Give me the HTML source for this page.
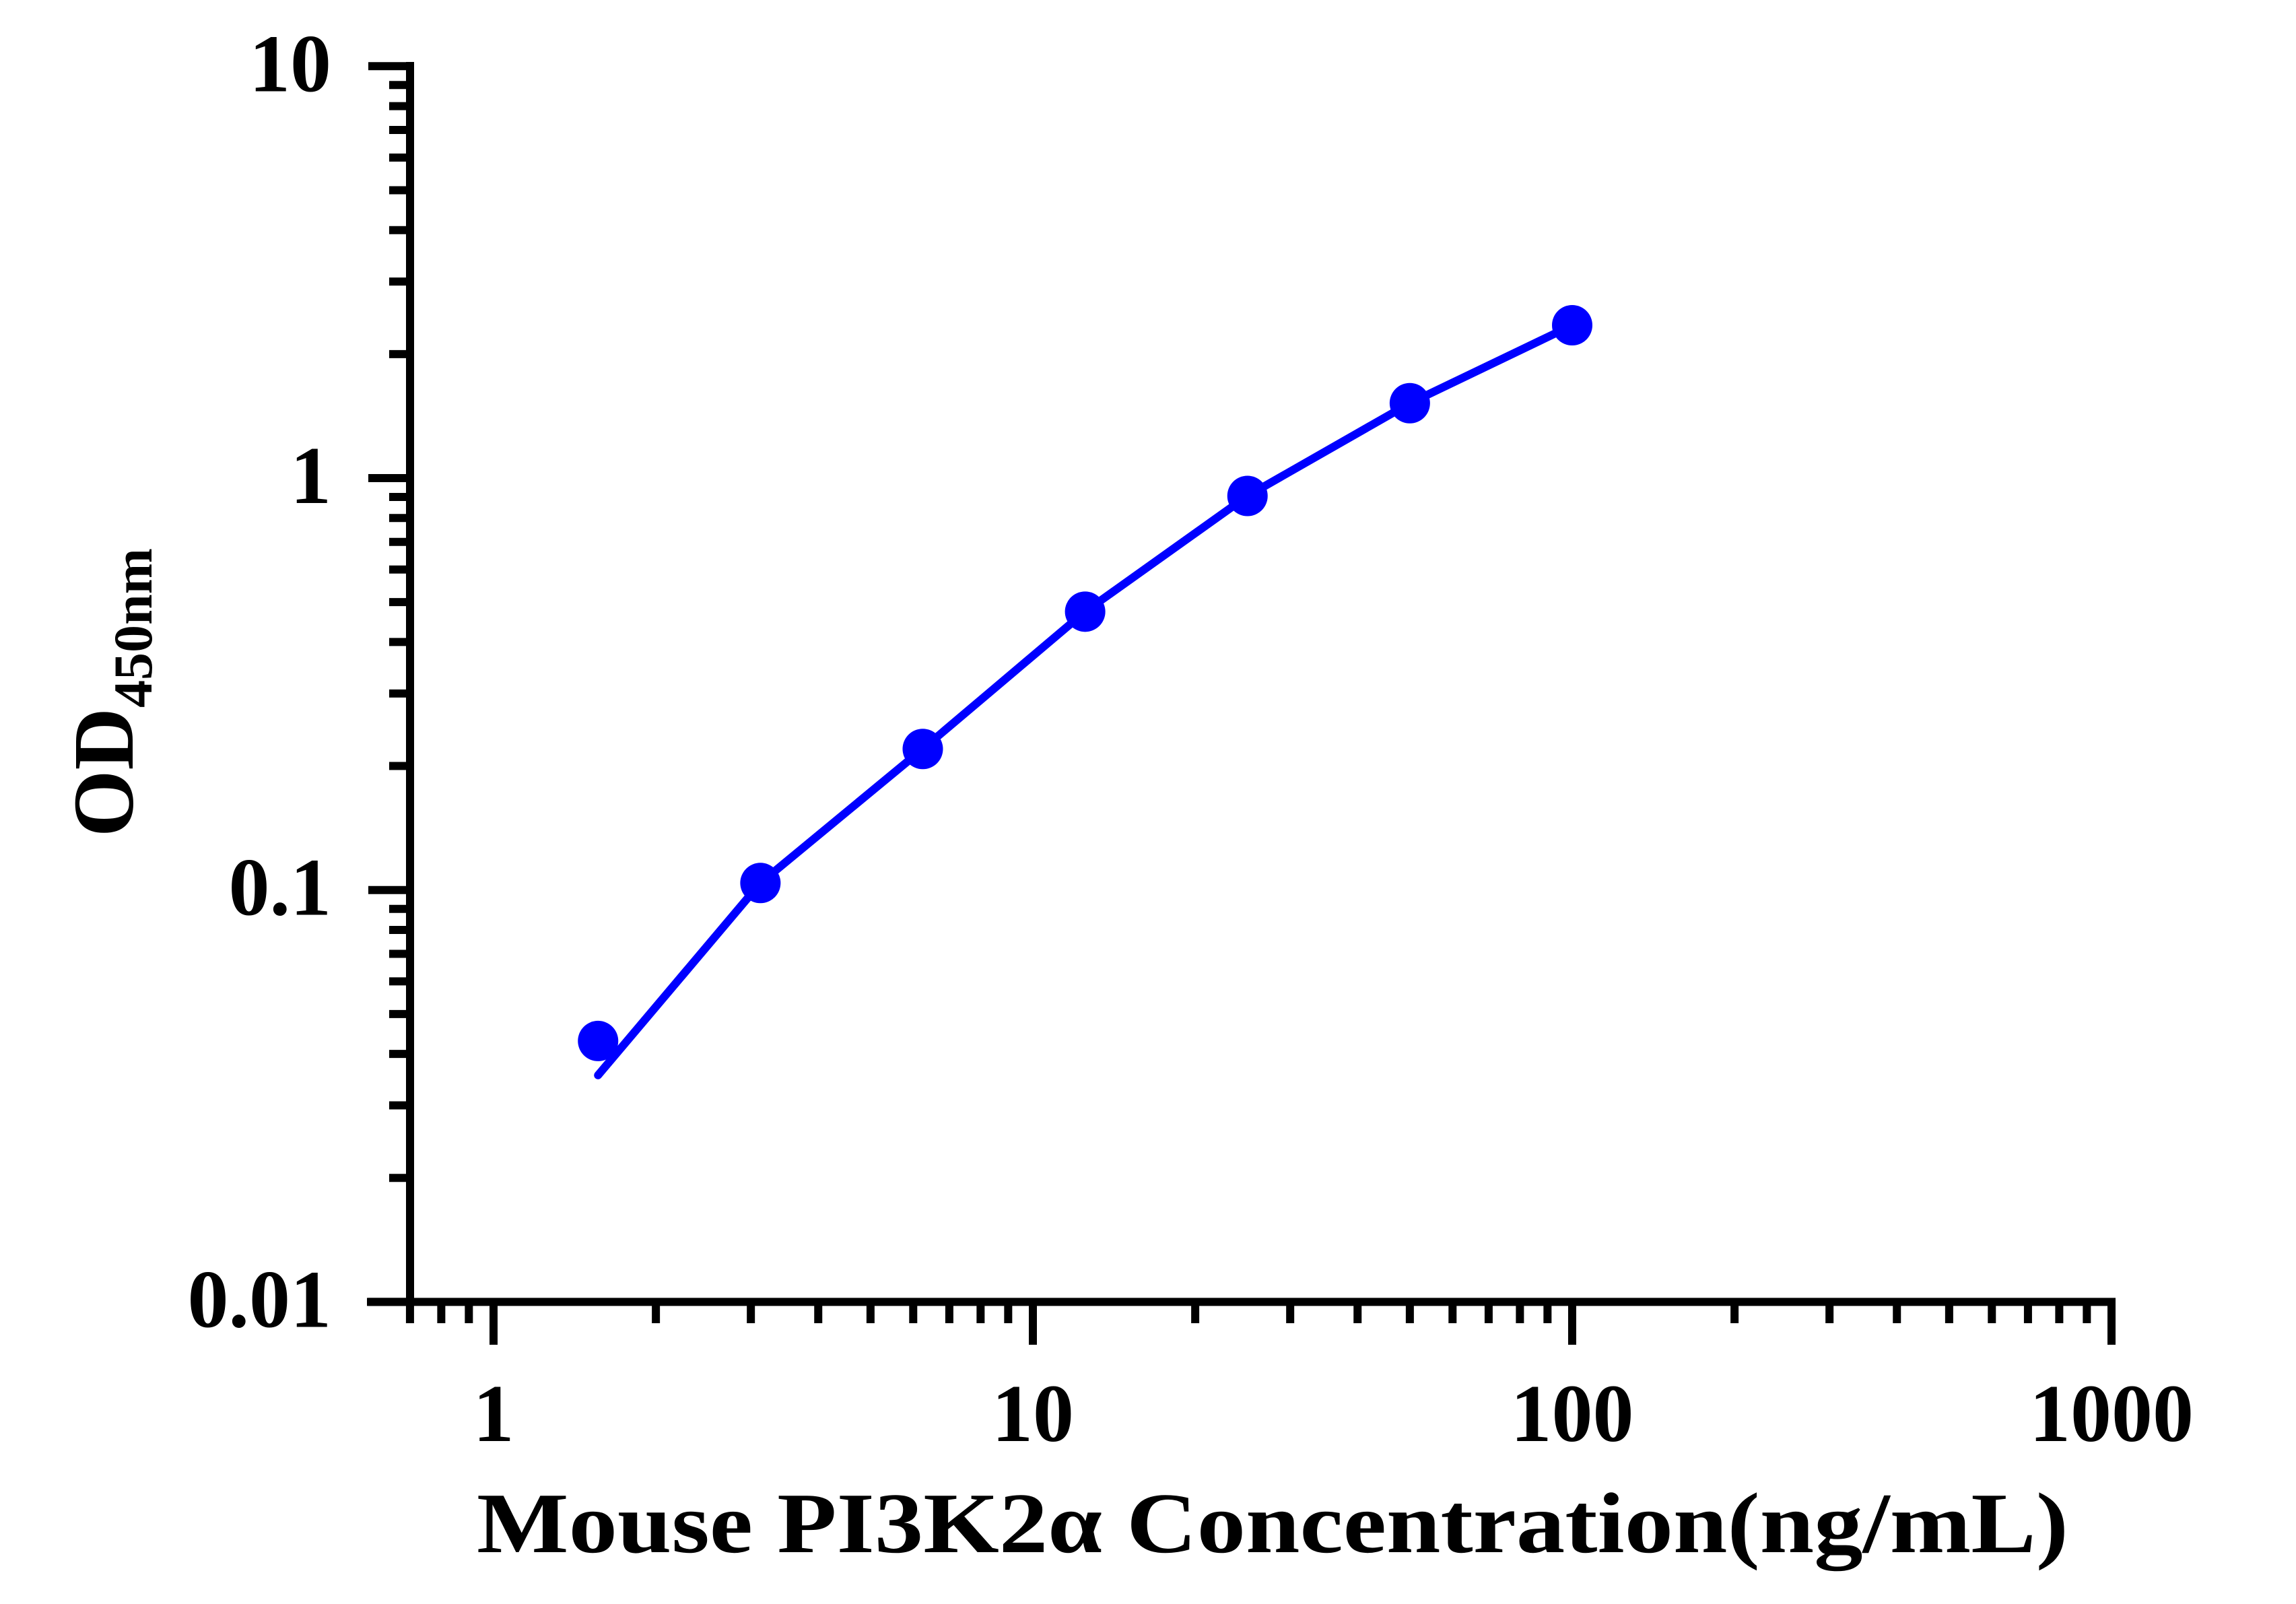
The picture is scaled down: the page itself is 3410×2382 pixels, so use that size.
<!DOCTYPE html>
<html><head><meta charset="utf-8"><style>
html,body{margin:0;padding:0;background:#fff;}
svg{display:block;font-family:"Liberation Serif",serif;font-weight:bold;}
</style></head><body>
<svg id="chart" width="3410" height="2382" viewBox="0 0 3410 2382" xmlns="http://www.w3.org/2000/svg">
<g id="axes"></g>
<g id="series"></g>
<text x="708" y="2305" font-size="128" textLength="2364" lengthAdjust="spacingAndGlyphs">Mouse PI3K2α Concentration(ng/mL)</text>
<g transform="translate(197,1243) rotate(-90)">
<text x="0" y="0" font-size="128">OD<tspan font-size="82" dy="28">450nm</tspan></text>
</g>
</svg>
<script>
const concentrations = [1.5625, 3.125, 6.25, 12.5, 25, 50, 100];
const odValues = [0.043, 0.104, 0.22, 0.474, 0.905, 1.52, 2.35];
const curveValues = [0.0355, 0.104, 0.22, 0.474, 0.905, 1.52, 2.35];
const xTickValues = [1, 10, 100, 1000];
const xTickLabels = ["1", "10", "100", "1000"];
const yTickValues = [0.01, 0.1, 1, 10];
const yTickLabels = ["0.01", "0.1", "1", "10"];

const NS = "http://www.w3.org/2000/svg";
function xs(v){ return 733 + Math.log10(v) * 801; }
function ys(v){ return 710 - Math.log10(v) * 611.7; }
function mk(tag, attrs, parent){
  const e = document.createElementNS(NS, tag);
  for (const k in attrs) e.setAttribute(k, attrs[k]);
  parent.appendChild(e); return e;
}
const axes = document.getElementById('axes');
const series = document.getElementById('series');
const x0 = 609, yBase = ys(0.01);

let yl = mk('line', {x1:x0, y1:92, x2:x0, y2:yBase+6, stroke:'#000','stroke-width':12}, axes);


for (let d = 0.01; d < 10; d *= 10) {
  for (let m = 2; m <= 9; m++) {
    const y = ys(d * m);
    const t = mk('line', {x1:578, y1:y, x2:x0, y2:y, stroke:'#000','stroke-width':12}, axes);
    
    
  }
}
yTickValues.forEach((v, i) => {
  const y = ys(v);
  const t = mk('line', {x1:547, y1:y, x2:x0, y2:y, stroke:'#000','stroke-width':12}, axes);
  
  
  const tx = mk('text', {x:492, y:y+37, 'font-size':122, 'text-anchor':'end'}, axes);
  tx.textContent = yTickLabels[i];
  
  
});

let xl = mk('line', {x1:545, y1:yBase, x2:xs(1000)+6, y2:yBase, stroke:'#000','stroke-width':12}, axes);


[0.7, 0.8, 0.9].forEach(v => {
  const x = xs(v);
  const t = mk('line', {x1:x, y1:yBase, x2:x, y2:1965, stroke:'#000','stroke-width':12}, axes);
  
  
});
for (let d = 1; d < 1000; d *= 10) {
  for (let m = 2; m <= 9; m++) {
    const x = xs(d * m);
    const t = mk('line', {x1:x, y1:yBase, x2:x, y2:1965, stroke:'#000','stroke-width':12}, axes);
    
    
  }
}
xTickValues.forEach((v, i) => {
  const x = xs(v);
  const t = mk('line', {x1:x, y1:yBase, x2:x, y2:1997, stroke:'#000','stroke-width':12}, axes);
  
  
  const tx = mk('text', {x:x, y:2140, 'font-size':122, 'text-anchor':'middle'}, axes);
  tx.textContent = xTickLabels[i];
  
  
});

const pts = concentrations.map((c, i) => xs(c).toFixed(1) + ',' + ys(curveValues[i]).toFixed(1)).join(' ');
const pl = mk('polyline', {points:pts, fill:'none', stroke:'#0000ff', 'stroke-width':12, 'stroke-linecap':'round', 'stroke-linejoin':'round'}, series);


concentrations.forEach((c, i) => {
  const p = mk('circle', {cx:xs(c), cy:ys(odValues[i]), r:30, fill:'#0000ff'}, series);
  
  
});
</script>
</body></html>
